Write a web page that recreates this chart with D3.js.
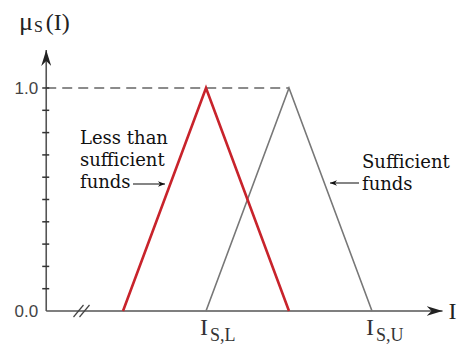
<!DOCTYPE html>
<html>
<head>
<meta charset="utf-8">
<script src="https://cdn.jsdelivr.net/npm/d3@7"></script>
<style>
  html, body { margin: 0; padding: 0; background: #fff; }
  svg { display: block; }
</style>
</head>
<body>
<svg id="chart" width="460" height="347"></svg>
<script>
// Membership functions: triangular fuzzy sets over income I
const lessX = [1, 2, 3];          // "Less than sufficient funds"
const lessMu = [0, 1, 0];
const suffX = [2, 3, 4];          // "Sufficient funds"
const suffMu = [0, 1, 0];

const yTickValues = [0, 1];
const yTickLabels = ["0.0", "1.0"];
const yMinorTicks = [0.1, 0.2, 0.3, 0.4, 0.5, 0.6, 0.7, 0.8, 0.9];
const xTickValues = [2, 4];
const xTickMain = ["I", "I"];
const xTickSub = ["S,L", "S,U"];
const lessLabel = ["Less than", "sufficient", "funds"];
const suffLabel = ["Sufficient", "funds"];

const svg = d3.select("#chart");
const x = d3.scaleLinear().domain([0, 4]).range([40, 372]);
const y = d3.scaleLinear().domain([0, 1]).range([311, 88]);

const originX = 0.075, axisEndX = 4.85, axisTopY = 1.17;
const axisColor = "#555";
const SERIF = '"Times New Roman", "Liberation Serif", serif';
const NOTE = '"DejaVu Serif", serif';
const SANS = 'Arial, sans-serif';

const defs = svg.append("defs");
defs.append("marker")
  .attr("id", "noteArrow").attr("viewBox", "0 0 10 10")
  .attr("refX", 10).attr("refY", 5)
  .attr("markerWidth", 10).attr("markerHeight", 7)
  .attr("markerUnits", "userSpaceOnUse")
  .attr("orient", "auto")
  .append("path").attr("d", "M0,1 L10,5 L0,9 L3,5 Z").attr("fill", "#111");
defs.append("marker")
  .attr("id", "bigArrow").attr("viewBox", "0 0 16 10")
  .attr("refX", 16).attr("refY", 5)
  .attr("markerWidth", 16).attr("markerHeight", 10)
  .attr("markerUnits", "userSpaceOnUse")
  .attr("orient", "auto")
  .append("path").attr("d", "M0,0 L16,5 L0,10 L5,5 Z").attr("fill", "#222");

// Dashed guide at membership 1.0
svg.append("line")
  .attr("x1", x(originX)).attr("x2", x(3))
  .attr("y1", y(1)).attr("y2", y(1))
  .attr("stroke", "#666").attr("stroke-width", 1.6)
  .attr("stroke-dasharray", "10,6");

// Axes
svg.append("line")
  .attr("x1", x(originX)).attr("x2", x(originX))
  .attr("y1", y(0)).attr("y2", y(axisTopY))
  .attr("stroke", axisColor).attr("stroke-width", 1.6)
  .attr("marker-end", "url(#bigArrow)");
svg.append("line")
  .attr("x1", x(originX)).attr("x2", x(axisEndX))
  .attr("y1", y(0)).attr("y2", y(0))
  .attr("stroke", axisColor).attr("stroke-width", 1.6)
  .attr("marker-end", "url(#bigArrow)");

// Y ticks
svg.selectAll(".minor").data(yMinorTicks.concat([1])).join("line")
  .attr("x1", x(originX) - 4).attr("x2", x(originX) + 3)
  .attr("y1", d => y(d)).attr("y2", d => y(d))
  .attr("stroke", "#333").attr("stroke-width", 1.5);
svg.selectAll(".ylab").data(yTickValues).join("text")
  .attr("x", x(originX) - 8).attr("y", d => y(d))
  .attr("dy", "0.36em").attr("text-anchor", "end")
  .style("font-family", SANS).style("font-size", "17px")
  .attr("fill", "#444")
  .text((d, i) => yTickLabels[i]);

// Axis break mark
const breakX = x(0.5);
[-3, 3].forEach(o => {
  svg.append("line")
    .attr("x1", breakX + o - 5).attr("y1", y(0) + 6)
    .attr("x2", breakX + o + 5).attr("y2", y(0) - 6)
    .attr("stroke", "#444").attr("stroke-width", 1.2);
});

// Y axis title: mu_S(I)
const yTitle = svg.append("text")
  .attr("x", 19).attr("y", 30)
  .style("font-family", SERIF).style("font-size", "24px")
  .attr("fill", "#222");
yTitle.append("tspan").style("font-size", "26px").text("\u03bc");
yTitle.append("tspan").style("font-size", "16px").attr("dy", 2).attr("dx", 1).text("S");
yTitle.append("tspan").attr("dy", -2).attr("dx", 3).text("(I)");

// X axis title
svg.append("text")
  .attr("x", x(axisEndX) + 6).attr("y", y(0))
  .attr("dy", "0.33em")
  .style("font-family", SERIF).style("font-size", "24px")
  .attr("fill", "#222")
  .text("I");

// X tick labels: I with subscript
xTickValues.forEach((v, i) => {
  const t = svg.append("text")
    .attr("x", x(v) - 6).attr("y", 335)
    .style("font-family", SERIF).style("font-size", "24px")
    .attr("fill", "#333");
  t.append("tspan").text(xTickMain[i]);
  t.append("tspan").style("font-size", "18px").attr("dy", 6).attr("dx", 2).text(xTickSub[i]);
});

// Membership triangles
const line = d3.line().x(d => x(d[0])).y(d => y(d[1]));
svg.append("path")
  .attr("d", line(suffX.map((v, i) => [v, suffMu[i]])))
  .attr("fill", "none").attr("stroke", "#777").attr("stroke-width", 1.6);
svg.append("path")
  .attr("d", line(lessX.map((v, i) => [v, lessMu[i]])))
  .attr("fill", "none").attr("stroke", "#c8232b").attr("stroke-width", 2.6);

// Annotation: less than sufficient funds
svg.selectAll(".lessLab").data(lessLabel).join("text")
  .attr("x", 80).attr("y", (d, i) => 144 + i * 22)
  .style("font-family", NOTE).style("font-size", "18px")
  .attr("fill", "#111")
  .text(d => d);
svg.append("line")
  .attr("x1", 133).attr("x2", 165).attr("y1", 184).attr("y2", 184)
  .attr("stroke", "#222").attr("stroke-width", 1.1)
  .attr("marker-end", "url(#noteArrow)");

// Annotation: sufficient funds
svg.selectAll(".suffLab").data(suffLabel).join("text")
  .attr("x", 362).attr("y", (d, i) => 168 + i * 22)
  .style("font-family", NOTE).style("font-size", "18px")
  .attr("fill", "#111")
  .text(d => d);
svg.append("line")
  .attr("x1", 359).attr("x2", 330).attr("y1", 183).attr("y2", 183)
  .attr("stroke", "#222").attr("stroke-width", 1.1)
  .attr("marker-end", "url(#noteArrow)");
</script>
</body>
</html>
